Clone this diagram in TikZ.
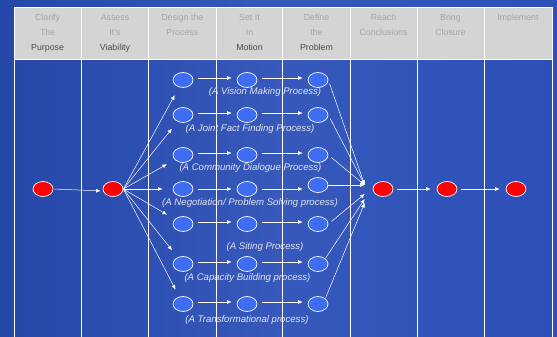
\documentclass[tikz,border=0pt]{standalone}
\usepackage{fontspec}
\setmainfont{Liberation Sans}
\usetikzlibrary{arrows.meta,calc,shapes.geometric}
\definecolor{bgblue}{HTML}{2C50B8}
\definecolor{bgdark}{HTML}{2447A8}
\definecolor{hdrgray}{HTML}{D4D4D4}
\definecolor{hdrtxt}{HTML}{A6A6A6}
\definecolor{hdrdark}{HTML}{4A4A4A}
\definecolor{nodeblue}{HTML}{3E6DF2}
\definecolor{lbl}{HTML}{E2E4EE}
\tikzset{
  redn/.style={ellipse,draw=white,line width=0.7pt,fill=red,minimum width=20pt,minimum height=15pt,inner sep=0pt},
  bluen/.style={ellipse,draw=white,line width=0.7pt,fill=nodeblue,minimum width=20pt,minimum height=15pt,inner sep=0pt},
  conn/.style={draw=white,line width=0.5pt,-{Latex[length=4.5pt,width=4pt]}},
  hdr/.style={font=\fontsize{8.8}{15}\selectfont,text=hdrtxt,align=center,anchor=north},
  lab/.style={font=\fontsize{9.6}{11}\selectfont\itshape,text=lbl,inner sep=0pt},
  colline/.style={draw=white,line width=0.8pt}
}
\begin{document}
\begin{tikzpicture}[x=1pt,y=-1pt]
\useasboundingbox (0,0) rectangle (557,337);
\shade[left color=bgdark,right color=bgblue,middle color=bgblue!95!white] (0,0) rectangle (557,337);
% header
\fill[hdrgray] (14,7.5) rectangle (552.5,59);
\draw[colline] (14,7.5) -- (552.5,7.5);
\draw[colline] (14,59.5) -- (552.5,59.5);
\foreach \x in {14,81.3,148.6,216,282.5,350,417,484,552.5}{
  \draw[colline] (\x,7.5) -- (\x,337);
}
\node[hdr] (h1) at (47.6,11) {Clarify\\The\\\textcolor{hdrdark}{Purpose}};
\node[hdr] (h2) at (115,11) {Assess\\It's\\\textcolor{hdrdark}{Viability}};
\node[hdr] (h3) at (182.3,11) {Design the\\Process};
\node[hdr] (h4) at (249.5,11) {Set It\\In\\\textcolor{hdrdark}{Motion}};
\node[hdr] (h5) at (316.5,11) {Define\\the\\\textcolor{hdrdark}{Problem}};
\node[hdr] (h6) at (383.5,11) {Reach\\Conclusions};
\node[hdr] (h7) at (450.5,11) {Bring\\Closure};
\node[hdr] (h8) at (518,11) {Implement};
% main nodes
\node[redn] (r1) at (43,189) {};
\node[redn] (r2) at (113,189) {};
\node[redn] (r3) at (383,189) {};
\node[redn] (r4) at (447,189) {};
\node[redn] (r5) at (516,189) {};
% blue rows
\node[bluen] (b11) at (183,80) {};  \node[bluen] (b12) at (247,80) {};  \node[bluen] (b13) at (318,80) {};
\node[bluen] (b21) at (183,115) {}; \node[bluen] (b22) at (247,115) {}; \node[bluen] (b23) at (318,115) {};
\node[bluen] (b31) at (183,155) {}; \node[bluen] (b32) at (247,155) {}; \node[bluen] (b33) at (318,155) {};
\node[bluen] (b41) at (183,189) {}; \node[bluen] (b42) at (247,189) {}; \node[bluen] (b43) at (318,185) {};
\node[bluen] (b51) at (183,224) {}; \node[bluen] (b52) at (247,224) {}; \node[bluen] (b53) at (318,224) {};
\node[bluen] (b61) at (183,264) {}; \node[bluen] (b62) at (247,264) {}; \node[bluen] (b63) at (318,264) {};
\node[bluen] (b71) at (183,304) {}; \node[bluen] (b72) at (247,304) {}; \node[bluen] (b73) at (318,304) {};
% labels
\node[lab] (l1) at (265,92) {(A Vision Making Process)};
\node[lab] (l2) at (250,129) {(A Joint Fact Finding Process)};
\node[lab] (l3) at (250.5,168) {(A Community Dialogue Process)};
\node[lab] (l4) at (250,203.5) {(A Negotiation/ Problem Solving process)};
\node[lab] (l5) at (265,247) {(A Siting Process)};
\node[lab] (l6) at (247.5,278) {(A Capacity Building process)};
\node[lab] (l7) at (247,320) {(A Transformational process)};
% convergence points
\coordinate (c1) at ($(r3.west)+(-8,-4)$);
\coordinate (c2) at ($(r3.west)+(-8,5)$);
\coordinate (c3) at ($(r3.west)+(-8,10)$);
\coordinate (c4) at ($(r3.west)+(-8,14)$);
% connectors
\draw[conn,shorten <=1pt,shorten >=2pt] (r1.east) -- (r2.west |- 0,191);
\foreach \r/\s in {1/9,2/9,3/9,4/10,5/9,6/9,7/8}{
  \draw[conn,shorten <=0pt,shorten >=\s pt] (r2.east) -- (b\r1);
}
\foreach \r in {1,2,3,5,6,7}{
  \draw[conn,shorten <=5pt,shorten >=5pt] ($(b\r1.east)+(0,-2)$) -- ($(b\r2.west)+(0,-2)$);
  \draw[conn,shorten <=5pt,shorten >=5pt] ($(b\r2.east)+(0,-2)$) -- ($(b\r3.west)+(0,-2)$);
}
\draw[conn,shorten <=5pt,shorten >=5pt] (b41.east) -- (b42.west);
\draw[conn,shorten <=5pt,shorten >=5pt] (b42.east) -- (b43.west |- b42);
\foreach \r in {1,2,3}{
  \draw[conn,shorten <=4pt] (b\r3.east) -- (c1);
}
\draw[conn] (b43.east) -- (c1);
\draw[conn,shorten <=4pt] (b53.east) -- (c2);
\draw[conn,shorten <=1pt] (b63.north east) -- (c3);
\draw[conn,shorten <=1pt] (b73.north east) -- (c4);
\draw[conn,shorten <=4pt,shorten >=6pt] (r3.east) -- (r4.west);
\draw[conn,shorten <=4pt,shorten >=6pt] (r4.east) -- (r5.west);
\end{tikzpicture}
\end{document}
